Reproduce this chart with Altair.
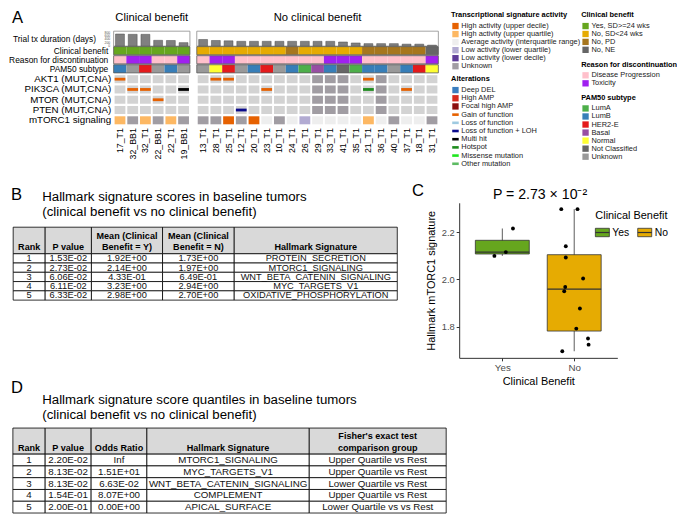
import altair as alt
import pandas as pd

# ================= DATA =================
# ---- Panel A: oncoprint ----
cb_samples = ['17_T1', '32_BB1', '32_T1', '22_BB1', '22_T1', '19_BB1']
cb_duration = [730, 710, 710, 350, 340, 210]
cb_benefit = ['Yes, SD>=24 wks'] * 6
cb_reason = ['Disease Progression', 'Toxicity', 'Toxicity', 'Disease Progression',
             'Disease Progression', 'Toxicity']
cb_pam50 = ['LumB', 'Unknown', 'HER2-E', 'Unknown', 'LumB', 'Unknown']
cb_mtorc1 = ['High activity (upper quartile)', 'Unknown', 'High activity (upper quartile)',
             'Unknown', 'High activity (upper quartile)', 'Unknown']

ncb_samples = ['13_T1', '28_T1', '25_T1', '12_T1', '20_T1', '23_T1', '10_T1', '24_T1', '26_T1',
               '29_T1', '33_T1', '41_T1', '35_T1', '21_T1', '36_T1', '40_T1', '37_T1', '18_T1', '31_T1']
ncb_duration = [400, 340, 320, 290, 290, 290, 290, 290, 290, 290, 290, 250, 190, 150, 150, 150,
                120, 120, 60]
ncb_benefit = (['No, SD<24 wks'] * 7 + ['No, PD'] + ['No, SD<24 wks'] * 5 + ['No, PD'] * 5
               + ['No, NE'])
ncb_reason = (['Disease Progression'] + ['Toxicity'] * 2 + ['Disease Progression'] * 7
              + ['Toxicity'] * 3 + ['Disease Progression'] * 5 + ['Toxicity'])
ncb_pam50 = ['Unknown', 'Normal', 'HER2-E', 'Unknown', 'LumB', 'HER2-E', 'Unknown', 'LumB', 'LumA',
             'Basal', 'LumB', 'Not Classified', 'LumA', 'LumB', 'LumB', 'Unknown', 'LumB', 'HER2-E',
             'Normal']
AVG = 'Average activity (interquartile range)'
ncb_mtorc1 = ['Unknown', 'Unknown', 'High activity (upper decile)', 'Unknown',
              'High activity (upper decile)', AVG, 'Unknown', AVG, 'Low activity (lower quartile)',
              AVG, AVG, AVG, AVG, 'High activity (upper quartile)', AVG, 'Unknown', AVG, AVG, 'Unknown']

gene_rows = ['AKT1 (MUT,CNA)', 'PIK3CA (MUT,CNA)', 'MTOR (MUT,CNA)', 'PTEN (MUT,CNA)']
signature_row = 'mTORC1 signaling'
not_profiled = ['29_T1', '33_T1', '41_T1', '36_T1']
alt_sample = ['17_T1', '32_BB1', '32_T1', '19_BB1', '22_BB1', '28_T1', '25_T1', '21_T1',
              '23_T1', '21_T1', '37_T1', '12_T1']
alt_gene = ['AKT1 (MUT,CNA)', 'PIK3CA (MUT,CNA)', 'PIK3CA (MUT,CNA)', 'PIK3CA (MUT,CNA)',
            'MTOR (MUT,CNA)', 'AKT1 (MUT,CNA)', 'AKT1 (MUT,CNA)', 'AKT1 (MUT,CNA)',
            'PIK3CA (MUT,CNA)', 'PIK3CA (MUT,CNA)', 'PIK3CA (MUT,CNA)', 'PTEN (MUT,CNA)']
alt_type = ['Gain of function', 'Gain of function', 'Gain of function', 'Multi hit',
            'Gain of function', 'Gain of function', 'Gain of function', 'Gain of function',
            'Gain of function', 'Hotspot', 'Gain of function', 'Loss of function + LOH']
anno_rows = ['Clinical benefit', 'Reason for discontinuation', 'PAM50 subtype']
dur_ticks = [0, 200, 400, 600, 800]

act_labels = ['High activity (upper decile)', 'High activity (upper quartile)', AVG,
              'Low activity (lower quartile)', 'Low activity (lower decile)', 'Unknown']
alt_labels = ['Deep DEL', 'High AMP', 'Focal high AMP', 'Gain of function', 'Loss of function',
              'Loss of function + LOH', 'Multi hit', 'Hotspot', 'Missense mutation', 'Other mutation']
cb_labels = ['Yes, SD>=24 wks', 'No, SD<24 wks', 'No, PD', 'No, NE']
reason_labels = ['Disease Progression', 'Toxicity']
pam_labels = ['LumA', 'LumB', 'HER2-E', 'Basal', 'Normal', 'Not Classified', 'Unknown']

# ---- Panel B table ----
b_rank = ['1', '2', '3', '4', '5']
b_pvalue = ['1.53E-02', '2.73E-02', '6.06E-02', '6.11E-02', '6.33E-02']
b_mean_y = ['1.92E+00', '2.14E+00', '4.33E-01', '3.23E+00', '2.98E+00']
b_mean_n = ['1.73E+00', '1.97E+00', '6.49E-01', '2.94E+00', '2.70E+00']
b_signature = ['PROTEIN_SECRETION', 'MTORC1_SIGNALING', 'WNT_BETA_CATENIN_SIGNALING',
               'MYC_TARGETS_V1', 'OXIDATIVE_PHOSPHORYLATION']
b_headers = [['Rank'], ['P value'], ['Mean (Clinical', 'Benefit = Y)'],
             ['Mean (Clinical', 'Benefit = N)'], ['Hallmark Signature']]

# ---- Panel C boxplot ----
c_group = ['Yes'] * 3 + ['No'] * 12
c_score = [2.216, 2.116, 2.100, 2.298, 2.298, 2.141, 2.093, 2.004, 1.968, 1.950, 1.877, 1.792,
           1.750, 1.724, 1.696]
c_jitter = [0.148, 0.049, -0.110, -0.180, 0.046, -0.117, -0.117, 0.124, -0.125, -0.139, 0.079,
            0.029, 0.192, 0.200, -0.166]
c_levels = ['Yes', 'No']
c_yticks = [1.8, 2.0, 2.2]

# ---- Panel D table ----
d_rank = ['1', '2', '3', '4', '5']
d_pvalue = ['2.20E-02', '8.13E-02', '8.13E-02', '1.54E-01', '2.00E-01']
d_odds = ['Inf', '1.51E+01', '6.63E-02', '8.07E+00', '0.00E+00']
d_signature = ['MTORC1_SIGNALING', 'MYC_TARGETS_V1', 'WNT_BETA_CATENIN_SIGNALING', 'COMPLEMENT',
               'APICAL_SURFACE']
d_group = ['Upper Quartile vs Rest', 'Upper Quartile vs Rest', 'Lower Quartile vs Rest',
           'Upper Quartile vs Rest', 'Lower Quartile vs vs Rest']
d_headers = [['Rank'], ['P value'], ['Odds Ratio'], ['Hallmark Signature'],
             ["Fisher's exact test", 'comparison group']]

# ================= STYLE =================
act_colors = ['#E66101', '#FDB863', '#EEEEEE', '#B2ABD2', '#5E3C99', '#A19DA3']
alt_colors = ['#3A7DBF', '#D62A1E', '#8B0F0F', '#E66101', '#9ECAE1', '#0A0A8C', '#000000',
              '#1E8C1E', '#1EE61E', '#5DBB63']
cb_colors = ['#66A61E', '#E6AB02', '#A6761D', '#666666']
reason_colors = ['#FFC0CB', '#A020F0']
pam_colors = ['#4DAF4A', '#377EB8', '#E41A1C', '#984EA3', '#FFFF33', '#666666', '#999999']
box_colors = ['#66A61E', '#E6AB02']
FONT = 'Liberation Sans'

W, H = 669, 506
SX, SY = W / 684.0, H / 524.0


def X(v):
    return round((v - 2.0) * SX, 2)


def Y(v):
    return round(v * SY, 2)


def F(s):
    return round(s * 0.975, 2)


one = pd.DataFrame({'k': [0]})
layers = []


def label(text, x, y, size, align='left', baseline='middle', weight='normal', color='black',
          angle=None):
    kw = dict(text=text, align=align, baseline=baseline, fontSize=F(size), fontWeight=weight,
              color=color, font=FONT)
    if angle is not None:
        kw['angle'] = angle
    return alt.Chart(one).mark_text(**kw).encode(x=alt.value(X(x)), y=alt.value(Y(y)))


def frame(x0, x1, y0, y1, fill='white', stroke='black', sw=0.8, fill_opacity=1.0):
    return alt.Chart(one).mark_rect(fill=fill, stroke=stroke, strokeWidth=sw,
                                    fillOpacity=fill_opacity).encode(
        x=alt.value(X(x0)), x2=alt.value(X(x1)), y=alt.value(Y(y0)), y2=alt.value(Y(y1)))


def band(domain, r0, r1, pi=0.0, po=0.0):
    return alt.Scale(type='band', domain=list(domain), range=[r0, r1], paddingInner=pi,
                     paddingOuter=po)


def cscale(domain, colors):
    return alt.Scale(domain=list(domain), range=list(colors))


# ================= PANEL A =================
DUR_TOP, DUR_BOT, DUR_MAX = 24.0, 39.5, 900
ANNO_TOP, ANNO_BOT = 40.0, 67.2
HEAT_TOP, HEAT_BOT = 68.5, 121.5
LAB_TOP = 124.5

dur_y = alt.Scale(domain=[0, DUR_MAX], range=[Y(DUR_BOT), Y(DUR_TOP)], nice=False, zero=True)
anno_y = band(anno_rows, Y(ANNO_TOP), Y(ANNO_BOT), 0.1, 0.0)
heat_rows = gene_rows + [signature_row]
heat_y = band(heat_rows, Y(HEAT_TOP), Y(HEAT_BOT), 0.22, 0.1)

layers.append(label('A', 6, 10, 17))
layers.append(label('Clinical benefit', 149, 10.5, 11.5, align='center'))
layers.append(label('No clinical benefit', 318.5, 10.5, 11.5, align='center'))


def oncoprint_group(samples, duration, benefit, reason, pam50, mtorc1, x0, x1):
    out = []
    hx = band(samples, X(x0), X(x1), 0.15, 0.075)
    ax = band(samples, X(x0), X(x1), 0.0, 0.0)
    bx = band(samples, X(x0), X(x1), 0.3, 0.15)
    # trial duration bars
    out.append(frame(x0, x1, DUR_TOP, DUR_BOT, stroke='#8C8C8C', sw=0.8))
    ddf = pd.DataFrame({'sample': samples, 'days': duration})
    out.append(alt.Chart(ddf).mark_bar(fill='#808080', stroke='#4D4D4D', strokeWidth=0.5).encode(
        x=alt.X('sample:N', scale=bx, axis=None),
        y=alt.Y('days:Q', scale=dur_y, axis=None)))
    # annotation tracks
    for row, vals, labs, cols in [(anno_rows[0], benefit, cb_labels, cb_colors),
                                  (anno_rows[1], reason, reason_labels, reason_colors),
                                  (anno_rows[2], pam50, pam_labels, pam_colors)]:
        adf = pd.DataFrame({'sample': samples, 'row': [row] * len(samples), 'cat': vals})
        out.append(alt.Chart(adf).mark_rect().encode(
            x=alt.X('sample:N', scale=ax, axis=None),
            y=alt.Y('row:N', scale=anno_y, axis=None),
            color=alt.Color('cat:N', scale=cscale(labs, cols), legend=None)))
    odf = pd.DataFrame({'row': anno_rows})
    out.append(alt.Chart(odf).mark_rect(fillOpacity=0, stroke='#595959', strokeWidth=0.8).encode(
        x=alt.value(X(x0)), x2=alt.value(X(x1)),
        y=alt.Y('row:N', scale=anno_y, axis=None)))
    # heatmap cells
    recs = []
    for s, m in zip(samples, mtorc1):
        for g in gene_rows:
            recs.append({'sample': s, 'row': g,
                         'cat': 'Not profiled' if s in not_profiled else 'Not altered'})
        recs.append({'sample': s, 'row': signature_row, 'cat': m})
    hdf = pd.DataFrame(recs)
    out.append(alt.Chart(hdf).mark_rect().encode(
        x=alt.X('sample:N', scale=hx, axis=None),
        y=alt.Y('row:N', scale=heat_y, axis=None),
        color=alt.Color('cat:N', scale=cscale(act_labels + ['Not altered', 'Not profiled'],
                                              act_colors + ['#D3D3D3', '#A19DA3']),
                        legend=None)))
    # alterations
    mdf = pd.DataFrame({'sample': alt_sample, 'row': alt_gene, 'type': alt_type})
    mdf = mdf[mdf['sample'].isin(samples)]
    if len(mdf):
        out.append(alt.Chart(mdf).mark_tick(orient='horizontal', size=X(11) - X(0),
                                            thickness=2.8, opacity=1).encode(
            x=alt.X('sample:N', scale=hx, axis=None),
            y=alt.Y('row:N', scale=heat_y, axis=None),
            color=alt.Color('type:N', scale=cscale(alt_labels, alt_colors), legend=None)))
    # sample labels
    ldf = pd.DataFrame({'sample': samples})
    out.append(alt.Chart(ldf).mark_text(angle=270, align='right', baseline='middle',
                                        fontSize=F(9), font=FONT, color='black').encode(
        x=alt.X('sample:N', scale=hx, axis=None),
        y=alt.value(Y(LAB_TOP)),
        text='sample:N'))
    return out


layers += oncoprint_group(cb_samples, cb_duration, cb_benefit, cb_reason, cb_pam50, cb_mtorc1,
                          110, 188)
layers += oncoprint_group(ncb_samples, ncb_duration, ncb_benefit, ncb_reason, ncb_pam50,
                          ncb_mtorc1, 195, 442)

# row labels
layers.append(label('Trial tx duration (days)', 92, 32, 8.6, align='right'))
tdf = pd.DataFrame({'v': dur_ticks})
layers.append(alt.Chart(tdf).mark_text(align='right', baseline='middle', fontSize=3.4,
                                       font=FONT, color='#555555').encode(
    x=alt.value(X(106.5)), y=alt.Y('v:Q', scale=dur_y, axis=None), text='v:Q'))
adf_l = pd.DataFrame({'row': anno_rows})
layers.append(alt.Chart(adf_l).mark_text(align='right', baseline='middle', fontSize=F(8.6),
                                         font=FONT, color='black').encode(
    x=alt.value(X(104.5)), y=alt.Y('row:N', scale=anno_y, axis=None), text='row:N'))
hdf_l = pd.DataFrame({'row': heat_rows})
layers.append(alt.Chart(hdf_l).mark_text(align='right', baseline='middle', fontSize=F(10),
                                         font=FONT, color='black').encode(
    x=alt.value(X(107.5)), y=alt.Y('row:N', scale=heat_y, axis=None), text='row:N'))


# ---- legends of panel A ----
def legend_section(title, labels, colors, x0, ty, y_first, y_last, bar_items=()):
    out = [label(title, x0, ty, 7.6, weight='bold')]
    ys = alt.Scale(type='point', domain=list(labels), range=[Y(y_first), Y(y_last)], padding=0)
    ldf = pd.DataFrame({'lab': labels})
    sq = ldf[~ldf['lab'].isin(bar_items)]
    br = ldf[ldf['lab'].isin(bar_items)]
    if len(sq):
        out.append(alt.Chart(sq).mark_square(size=40, opacity=1).encode(
            x=alt.value(X(x0 + 4.5)), y=alt.Y('lab:N', scale=ys, axis=None),
            color=alt.Color('lab:N', scale=cscale(labels, colors), legend=None)))
    if len(br):
        out.append(alt.Chart(br).mark_tick(orient='horizontal', size=6.5, thickness=2.6,
                                           opacity=1).encode(
            x=alt.value(X(x0 + 4.5)), y=alt.Y('lab:N', scale=ys, axis=None),
            color=alt.Color('lab:N', scale=cscale(labels, colors), legend=None)))
    out.append(alt.Chart(ldf).mark_text(align='left', baseline='middle', fontSize=F(7.6),
                                        font=FONT, color='#222222').encode(
        x=alt.value(X(x0 + 10.5)), y=alt.Y('lab:N', scale=ys, axis=None), text='lab:N'))
    return out


layers += legend_section('Transcriptional signature activity', act_labels, act_colors,
                         455, 7, 18.7, 60.3)
layers += legend_section('Alterations', alt_labels, alt_colors, 455, 73.7, 85, 161.3,
                         bar_items=alt_labels[3:])
layers += legend_section('Clinical benefit', cb_labels, cb_colors, 588, 7, 18.7, 43.3)
layers += legend_section('Reason for discontinuation', reason_labels, reason_colors,
                         588, 59, 69.7, 78)
layers += legend_section('PAM50 subtype', pam_labels, pam_colors, 588, 93.3, 104, 154)


# ================= TABLES (B, D) =================
def table(cols, headers, bounds, top, head_bot, row_h, head_base, line_h, fs_body, fs_head):
    out = []
    keys = cols[0]
    n = len(keys)
    ys = band(keys, Y(head_bot), Y(head_bot + n * row_h), 0.0, 0.0)
    for i, (hdr, vals) in enumerate(zip(headers, cols)):
        l, r = bounds[i], bounds[i + 1]
        out.append(frame(l, r, top, head_bot, fill='#D9D9D9', stroke='black', sw=0.8))
        for k, line in enumerate(hdr):
            out.append(label(line, (l + r) / 2, head_base - (len(hdr) - 1 - k) * line_h,
                             fs_head, align='center', baseline='alphabetic', weight='bold'))
        cdf = pd.DataFrame({'key': keys, 'val': vals})
        out.append(alt.Chart(cdf).mark_rect(fill='white', stroke='black', strokeWidth=0.8).encode(
            x=alt.value(X(l)), x2=alt.value(X(r)),
            y=alt.Y('key:N', scale=ys, axis=None)))
        out.append(alt.Chart(cdf).mark_text(align='center', baseline='middle', fontSize=F(fs_body),
                                            font=FONT, color='#111111').encode(
            x=alt.value(X((l + r) / 2)), y=alt.Y('key:N', scale=ys, axis=None), text='val:N'))
    return out


# Panel B
layers.append(label('B', 5, 194, 17))
layers.append(label('Hallmark signature scores in baseline tumors', 37, 196, 13.6))
layers.append(label('(clinical benefit vs no clinical benefit)', 37, 211, 13.6))
layers += table([b_rank, b_pvalue, b_mean_y, b_mean_n, b_signature], b_headers,
                [7.3, 40, 87.3, 160, 233.3, 400], 227, 254.5, 9.6, 250.5, 11.5, 9.5, 9.3)

# Panel D
layers.append(label('D', 5, 394, 17))
layers.append(label('Hallmark signature score quantiles in baseline tumors', 37, 406, 13.6))
layers.append(label('(clinical benefit vs no clinical benefit)', 37, 421, 13.6))
layers += table([d_rank, d_pvalue, d_odds, d_signature, d_group], d_headers,
                [7, 40, 87, 144, 310, 450], 435, 462, 12.2, 458.5, 11.8, 10, 9.3)

# ================= PANEL C =================
layers.append(label('C', 415, 190, 17))
layers.append(label('P = 2.73 \u00d7 10\u207b\u00b2', 546, 193.5, 14.5, align='center'))

cdf = pd.DataFrame({'group': c_group, 'score': c_score, 'jitter': c_jitter})
c_x = alt.Scale(domain=[0.4, 2.6], range=[X(463.3), X(625)], nice=False, zero=False)
c_y = alt.Scale(domain=[1.668, 2.325], range=[Y(362.3), Y(201.7)], nice=False, zero=False)
gexpr = "indexof(%s, datum.group) + 1" % str(c_levels)
base = alt.Chart(cdf).transform_calculate(g=gexpr)

whisk = base.transform_aggregate(lo='min(score)', hi='max(score)', groupby=['g']).mark_rule(
    color='#333333', strokeWidth=0.8).encode(
    x=alt.X('g:Q', scale=c_x, axis=None), y=alt.Y('lo:Q', scale=c_y, axis=None), y2='hi:Q')
box = base.transform_aggregate(
    q1='q1(score)', q3='q3(score)', groupby=['g', 'group']).transform_calculate(
    xl='datum.g - 0.375', xr='datum.g + 0.375').mark_rect(
    stroke='#333333', strokeWidth=0.8).encode(
    x=alt.X('xl:Q', scale=c_x, axis=None), x2='xr:Q',
    y=alt.Y('q1:Q', scale=c_y, axis=None), y2='q3:Q',
    color=alt.Color('group:N', scale=cscale(c_levels, box_colors), legend=None))
med = base.transform_aggregate(md='median(score)', groupby=['g']).transform_calculate(
    xl='datum.g - 0.375', xr='datum.g + 0.375').mark_rule(
    color='#333333', strokeWidth=1.4).encode(
    x=alt.X('xl:Q', scale=c_x, axis=None), x2='xr:Q', y=alt.Y('md:Q', scale=c_y, axis=None))
pts = base.transform_calculate(px='datum.g + datum.jitter').mark_circle(
    size=15, color='black', opacity=1).encode(
    x=alt.X('px:Q', scale=c_x,
            axis=alt.Axis(orient='bottom', offset=-(H - Y(362.3)), values=[1, 2],
                          labelExpr="datum.value == 1 ? 'Yes' : 'No'", title='Clinical Benefit',
                          grid=False, labelFontSize=F(10), labelColor='#4D4D4D', labelFont=FONT,
                          titleFont=FONT, titleFontSize=F(11.2), titleFontWeight='normal',
                          titleColor='black', domainColor='#333333', tickColor='#333333',
                          tickSize=3, labelPadding=2, titlePadding=3)),
    y=alt.Y('score:Q', scale=c_y,
            axis=alt.Axis(orient='left', offset=-X(463.3), values=c_yticks, format='.1f',
                          title='Hallmark mTORC1 signature', grid=False, labelFontSize=F(9.6),
                          labelColor='#4D4D4D', labelFont=FONT, titleFont=FONT,
                          titleFontSize=F(11.2), titleFontWeight='normal', titleColor='black',
                          domainColor='#333333', tickColor='#333333', tickSize=3,
                          labelPadding=2, titlePadding=5)))
layers += [whisk, box, med, pts]

# legend of panel C
layers.append(label('Clinical Benefit', 602.5, 215.5, 11.2))
leg_x = alt.Scale(type='point', domain=c_levels, range=[X(609.7), X(653)], padding=0)
lgdf = pd.DataFrame({'group': c_levels})
layers.append(alt.Chart(lgdf).mark_point(
    shape='M-1,-0.6H1V0.6H-1Z', size=196, filled=True, stroke='#333333', strokeWidth=0.8,
    opacity=1).encode(
    x=alt.X('group:N', scale=leg_x, axis=None), y=alt.value(Y(232.5)),
    fill=alt.Fill('group:N', scale=cscale(c_levels, box_colors), legend=None)))
layers.append(alt.Chart(lgdf).mark_point(
    shape='M-1,0H1', size=196, filled=False, stroke='#333333', strokeWidth=1.2,
    opacity=1).encode(
    x=alt.X('group:N', scale=leg_x, axis=None), y=alt.value(Y(232.5))))
layers.append(alt.Chart(lgdf).mark_text(align='left', baseline='middle', fontSize=F(10.6),
                                        font=FONT, color='black', dx=10).encode(
    x=alt.X('group:N', scale=leg_x, axis=None), y=alt.value(Y(232.5)), text='group:N'))

chart = alt.layer(*layers).resolve_scale(
    x='independent', y='independent', color='independent', fill='independent'
).resolve_axis(x='independent', y='independent').properties(
    width=W, height=H, autosize=alt.AutoSizeParams(type='none'), padding=0
).configure_view(stroke=None)

chart.save('out.html', embed_options={'renderer': 'svg', 'actions': False})
